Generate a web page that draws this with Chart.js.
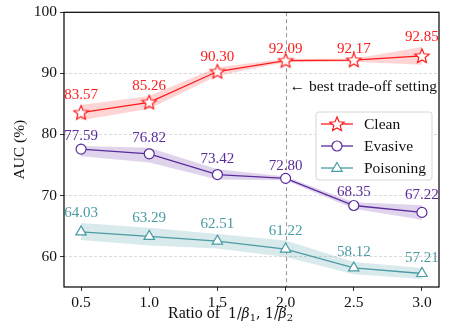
<!DOCTYPE html>
<html lang="en">
<head>
    <meta charset="UTF-8">
    <title>AUC vs ratio</title>
    <script src="https://cdn.jsdelivr.net/npm/chart.js"></script>
    <style>
        html, body { margin: 0; padding: 0; background: #fff; }
        #wrap { width: 458px; height: 326px; }
    </style>
</head>
<body>
    <div id="wrap"><canvas id="aucChart" width="458" height="326"></canvas></div>

    <script>
        // data
        const ratios = [0.5, 1.0, 1.5, 2.0, 2.5, 3.0];
        const xTicks = [0.5, 1.0, 1.5, 2.0, 2.5, 3.0];
        const yTicks = [60, 70, 80, 90, 100];

        const cleanAuc = [83.57, 85.26, 90.30, 92.09, 92.17, 92.85];
        const cleanUpper = [84.8, 86.3, 91.0, 92.4, 92.4, 94.3];
        const cleanLower = [82.3, 84.2, 89.6, 91.8, 91.9, 91.4];

        const evasiveAuc = [77.59, 76.82, 73.42, 72.80, 68.35, 67.22];
        const evasiveUpper = [78.1, 77.8, 74.3, 73.1, 68.9, 68.4];
        const evasiveLower = [76.4, 75.4, 72.6, 72.5, 67.8, 66.0];

        const poisonAuc = [64.03, 63.29, 62.51, 61.22, 58.12, 57.21];
        const poisonUpper = [65.5, 64.7, 63.7, 62.6, 59.1, 58.1];
        const poisonLower = [62.7, 61.8, 61.3, 59.9, 57.1, 56.3];

        const bestRatio = 2.0;

        const RED = '#ff1a1a';
        const PURPLE = '#5b2b9e';
        const TEAL = '#4a9ba3';
        const SERIF = '"Liberation Serif", "DejaVu Serif", serif';

        function pts(ys) {
            return ratios.map((x, i) => ({ x: x, y: ys[i] }));
        }

        // 5-point star path
        function starPath(ctx, cx, cy, R) {
            const r = R * 0.45;
            ctx.beginPath();
            for (let i = 0; i < 10; i++) {
                const rad = i % 2 === 0 ? R : r;
                const a = -Math.PI / 2 + i * Math.PI / 5;
                const px = cx + rad * Math.cos(a), py = cy + rad * Math.sin(a);
                if (i === 0) ctx.moveTo(px, py); else ctx.lineTo(px, py);
            }
            ctx.closePath();
        }

        function makeStar(color) {
            const c = document.createElement('canvas');
            c.width = 18; c.height = 18;
            const g = c.getContext('2d');
            starPath(g, 9, 9.5, 7.5);
            g.fillStyle = '#fff';
            g.fill();
            g.lineWidth = 1.2;
            g.strokeStyle = color;
            g.stroke();
            return c;
        }
        const starImg = makeStar(RED);

        function drawMarker(ctx, kind, x, y, color) {
            ctx.save();
            ctx.fillStyle = '#fff';
            ctx.strokeStyle = color;
            ctx.lineWidth = 1.2;
            if (kind === 'star') {
                starPath(ctx, x, y + 0.5, 7.5);
            } else if (kind === 'circle') {
                ctx.beginPath();
                ctx.arc(x, y, 5, 0, Math.PI * 2);
            } else {
                const s = 5.5;
                ctx.beginPath();
                ctx.moveTo(x, y - s);
                ctx.lineTo(x + s * 0.95, y + s * 0.6);
                ctx.lineTo(x - s * 0.95, y + s * 0.6);
                ctx.closePath();
            }
            ctx.fill();
            ctx.stroke();
            ctx.restore();
        }

        function band(data, color, fill) {
            return {
                data: pts(data),
                borderWidth: 0,
                pointRadius: 0,
                backgroundColor: color,
                fill: fill,
                order: 2
            };
        }

        function line(data, color, style) {
            return {
                data: pts(data),
                borderColor: color,
                borderWidth: 1.3,
                pointStyle: style,
                pointRadius: style === 'circle' ? 5 : 6,
                pointBorderWidth: 1.2,
                pointBackgroundColor: '#fff',
                pointBorderColor: color,
                fill: false,
                order: 0
            };
        }

        const series = [
            { name: 'Clean', values: cleanAuc, upper: cleanUpper, color: RED, marker: 'star' },
            { name: 'Evasive', values: evasiveAuc, upper: evasiveUpper, color: PURPLE, marker: 'circle' },
            { name: 'Poisoning', values: poisonAuc, upper: poisonUpper, color: TEAL, marker: 'triangle' }
        ];

        const extras = {
            id: 'extras',
            beforeDatasetsDraw(chart) {
                const { ctx, chartArea: a, scales } = chart;
                ctx.save();
                // dashed horizontal grid
                ctx.strokeStyle = '#dadada';
                ctx.lineWidth = 1;
                ctx.setLineDash([3, 2]);
                yTicks.forEach(v => {
                    const y = Math.round(scales.y.getPixelForValue(v)) + 0.5;
                    ctx.beginPath();
                    ctx.moveTo(a.left, y);
                    ctx.lineTo(a.right, y);
                    ctx.stroke();
                });
                // best setting marker line
                const x = Math.round(scales.x.getPixelForValue(bestRatio)) + 0.5;
                ctx.strokeStyle = '#999';
                ctx.lineWidth = 1.1;
                ctx.setLineDash([4, 3]);
                ctx.beginPath();
                ctx.moveTo(x, a.top);
                ctx.lineTo(x, a.bottom);
                ctx.stroke();
                ctx.restore();
            },
            afterDraw(chart) {
                const { ctx, chartArea: a, scales } = chart;
                ctx.save();

                // frame
                ctx.strokeStyle = '#000';
                ctx.lineWidth = 1.2;
                ctx.strokeRect(a.left, a.top, a.right - a.left, a.bottom - a.top);

                // value labels above the bands
                ctx.font = '15px ' + SERIF;
                ctx.textAlign = 'center';
                ctx.textBaseline = 'middle';
                series.forEach(s => {
                    ctx.fillStyle = s.color;
                    s.values.forEach((v, i) => {
                        const px = scales.x.getPixelForValue(ratios[i]);
                        const py = scales.y.getPixelForValue(s.upper[i]) - 10;
                        ctx.fillText(v.toFixed(2), px, py);
                    });
                });

                // annotation
                ctx.fillStyle = '#111';
                ctx.textAlign = 'left';
                ctx.font = '15.5px ' + SERIF;
                ctx.fillText('\u2190 best trade-off setting', scales.x.getPixelForValue(bestRatio) + 4, 87);

                // legend
                const lx = 316, ly = 112, lw = 116, lh = 68;
                ctx.beginPath();
                ctx.roundRect(lx, ly, lw, lh, 3);
                ctx.fillStyle = 'rgba(255,255,255,0.85)';
                ctx.fill();
                ctx.strokeStyle = '#d6d6d6';
                ctx.lineWidth = 1;
                ctx.stroke();
                series.forEach((s, i) => {
                    const y = ly + 12 + i * 22;
                    ctx.strokeStyle = s.color;
                    ctx.lineWidth = 1.3;
                    ctx.beginPath();
                    ctx.moveTo(lx + 5, y);
                    ctx.lineTo(lx + 37, y);
                    ctx.stroke();
                    drawMarker(ctx, s.marker, lx + 21, y, s.color);
                    ctx.fillStyle = '#111';
                    ctx.textAlign = 'left';
                    ctx.textBaseline = 'middle';
                    ctx.font = '15.5px ' + SERIF;
                    ctx.fillText(s.name, lx + 48, y + 1);
                });

                // y title
                ctx.save();
                ctx.translate(20, (a.top + a.bottom) / 2);
                ctx.rotate(-Math.PI / 2);
                ctx.textAlign = 'center';
                ctx.textBaseline = 'middle';
                ctx.fillStyle = '#111';
                ctx.font = '15.5px ' + SERIF;
                ctx.fillText('AUC (%)', 0, 0);
                ctx.restore();

                // x title with math part
                const baseY = 318;
                let tx = 168;
                ctx.textAlign = 'left';
                ctx.textBaseline = 'alphabetic';
                ctx.fillStyle = '#111';
                const MATH = '"DejaVu Serif"';
                const parts = [
                    { t: 'Ratio of', f: '16px ' + SERIF, dy: 0, gap: 8 },
                    { t: '1/', f: '14px ' + MATH, dy: 0, gap: 0 },
                    { t: '\u03b2', f: 'italic 14px ' + MATH, dy: 0, gap: 0 },
                    { t: '1', f: '10px ' + MATH, dy: 3, gap: 0 },
                    { t: ', 1/', f: '14px ' + MATH, dy: 0, gap: 0 },
                    { t: '\u03b2', f: 'italic 14px ' + MATH, dy: 0, gap: 0 },
                    { t: '2', f: '10px ' + MATH, dy: 3, gap: 0 }
                ];
                parts.forEach(p => {
                    ctx.font = p.f;
                    ctx.fillText(p.t, tx, baseY + p.dy);
                    tx += ctx.measureText(p.t).width + p.gap;
                });

                ctx.restore();
            }
        };

        window.onload = function () {
            const ctx = document.getElementById('aucChart').getContext('2d');
            new Chart(ctx, {
                type: 'line',
                data: {
                    datasets: [
                        line(cleanAuc, RED, starImg),
                        line(evasiveAuc, PURPLE, 'circle'),
                        line(poisonAuc, TEAL, 'triangle'),
                        band(cleanLower, 'rgba(0,0,0,0)', false),
                        band(cleanUpper, 'rgba(255,60,60,0.22)', '-1'),
                        band(evasiveLower, 'rgba(0,0,0,0)', false),
                        band(evasiveUpper, 'rgba(110,60,170,0.22)', '-1'),
                        band(poisonLower, 'rgba(0,0,0,0)', false),
                        band(poisonUpper, 'rgba(80,160,170,0.22)', '-1')
                    ]
                },
                options: {
                    responsive: false,
                    animation: false,
                    events: [],
                    layout: { padding: { top: 7, right: 19, left: 0, bottom: 0 } },
                    plugins: {
                        legend: { display: false },
                        tooltip: { enabled: false }
                    },
                    scales: {
                        x: {
                            type: 'linear',
                            min: 0.375,
                            max: 3.125,
                            afterBuildTicks: s => { s.ticks = xTicks.map(v => ({ value: v })); },
                            afterFit: s => { s.height = 39; },
                            grid: { drawOnChartArea: false, tickLength: 4, tickColor: '#333', tickWidth: 1 },
                            border: { display: false },
                            ticks: {
                                color: '#111',
                                padding: 3,
                                maxRotation: 0,
                                font: { family: SERIF, size: 15.5 },
                                callback: v => v.toFixed(1)
                            }
                        },
                        y: {
                            min: 55,
                            max: 100,
                            afterBuildTicks: s => { s.ticks = yTicks.map(v => ({ value: v })); },
                            afterFit: s => { s.width = 64; },
                            grid: { drawOnChartArea: false, tickLength: 4, tickColor: '#333', tickWidth: 1 },
                            border: { display: false },
                            ticks: {
                                color: '#111',
                                padding: 3,
                                font: { family: SERIF, size: 15.5 }
                            }
                        }
                    }
                },
                plugins: [extras]
            });
        };
    </script>
</body>
</html>
